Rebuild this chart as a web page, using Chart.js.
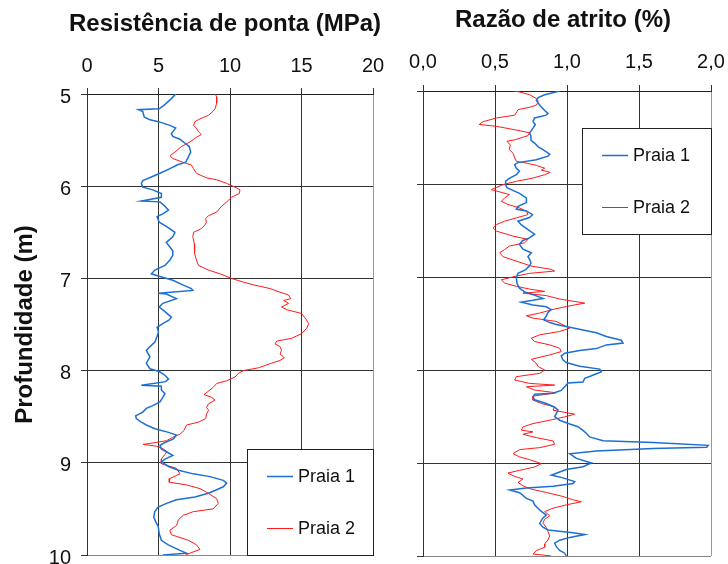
<!DOCTYPE html>
<html>
<head>
<meta charset="utf-8">
<script src="https://cdn.jsdelivr.net/npm/chart.js@4.4.1/dist/chart.umd.min.js"></script>
<style>
  html, body { margin: 0; padding: 0; background: #fff; }
  #wrap { position: relative; width: 728px; height: 564px; }
  canvas { position: absolute; top: 0; }
</style>
</head>
<body>
<div id="wrap">
  <canvas id="qcChart" width="395" height="564" style="left:0"></canvas>
  <canvas id="rfChart" width="333" height="564" style="left:395px"></canvas>
</div>
<script>
// Resistência de ponta (MPa) - Praia 1
const depthQc1 = [
  5.00,5.05,5.12,5.16,5.17,5.19,5.25,5.28,5.30,5.34,
  5.37,5.43,5.46,5.49,5.54,5.57,5.63,5.68,5.74,5.77,
  5.81,5.86,5.90,5.94,5.97,6.01,6.04,6.08,6.12,6.16,
  6.17,6.21,6.26,6.30,6.33,6.39,6.44,6.50,6.55,6.61,
  6.64,6.70,6.75,6.80,6.86,6.91,6.95,6.98,7.02,7.07,
  7.11,7.13,7.16,7.17,7.22,7.27,7.31,7.36,7.42,7.45,
  7.49,7.53,7.58,7.63,7.69,7.74,7.78,7.85,7.92,7.98,
  8.01,8.05,8.09,8.12,8.16,8.17,8.21,8.25,8.29,8.34,
  8.38,8.41,8.45,8.49,8.52,8.56,8.59,8.63,8.67,8.70,
  8.74,8.78,8.81,8.85,8.88,8.92,8.96,8.99,9.04,9.08,
  9.12,9.15,9.19,9.22,9.26,9.30,9.33,9.37,9.40,9.44,
  9.48,9.53,9.59,9.64,9.69,9.77,9.84,9.89,9.95,9.98,
  10.0
];
const qcPraia1 = [
  6.2,5.9,5.4,5.05,3.6,3.9,4.0,4.4,5.0,5.8,
  6.2,5.9,6.0,6.5,6.9,7.15,7.25,7.1,6.9,6.3,
  5.8,5.1,4.5,3.9,3.8,3.9,4.6,5.2,5.2,3.8,
  5.1,5.4,5.7,5.3,4.9,5.05,5.6,6.15,6.0,5.55,
  5.7,6.0,6.0,5.8,5.45,4.75,4.5,5.1,6.0,6.7,
  7.3,7.4,5.0,5.55,6.25,5.3,5.05,5.45,5.9,5.75,
  5.3,4.9,5.0,4.9,4.75,4.4,4.15,4.4,4.15,4.4,
  5.05,5.45,5.7,5.5,3.8,5.2,5.2,5.45,5.3,5.1,
  4.6,4.15,3.9,3.4,3.45,3.8,4.15,4.75,5.7,6.25,
  6.05,5.45,5.1,5.2,5.55,6.0,5.45,5.2,5.7,6.4,
  7.43,8.6,9.53,9.77,9.53,8.95,8.48,7.55,6.26,5.56,
  4.98,4.74,4.67,4.81,4.98,5.05,5.2,5.68,6.5,6.96,
  5.3
];

// Resistência de ponta (MPa) - Praia 2
const depthQc2 = [
  5.00,5.03,5.10,5.16,5.19,5.23,5.27,5.30,5.34,5.37,
  5.41,5.44,5.47,5.52,5.57,5.63,5.67,5.70,5.74,5.77,
  5.81,5.86,5.91,5.93,5.97,6.01,6.04,6.08,6.12,6.17,
  6.22,6.28,6.32,6.35,6.39,6.42,6.46,6.50,6.55,6.62,
  6.68,6.73,6.80,6.86,6.91,6.95,7.00,7.04,7.07,7.11,
  7.15,7.18,7.22,7.24,7.27,7.31,7.34,7.38,7.44,7.49,
  7.54,7.60,7.65,7.68,7.71,7.74,7.78,7.82,7.86,7.89,
  7.92,7.97,8.00,8.03,8.07,8.11,8.14,8.18,8.21,8.26,
  8.29,8.32,8.36,8.40,8.43,8.47,8.52,8.56,8.59,8.65,
  8.69,8.72,8.76,8.79,8.80,8.82,8.85,8.88,8.91,8.96,
  9.01,9.06,9.12,9.17,9.21,9.24,9.28,9.33,9.39,9.44,
  9.50,9.53,9.57,9.62,9.68,9.73,9.78,9.84,9.89,9.94,
  9.98,10.0
];
const qcPraia2 = [
  8.95,9.07,9.07,8.95,8.8,8.5,7.9,7.55,7.45,7.65,
  7.8,8.0,7.65,7.2,6.6,6.15,5.8,6.0,6.7,7.3,
  7.45,7.65,8.35,9.07,9.77,10.35,10.7,10.65,10.1,9.77,
  9.4,9.07,8.5,8.3,8.35,8.25,8.0,7.45,7.4,7.5,
  7.55,7.5,7.65,7.8,8.5,9.3,10.1,10.93,11.63,12.8,
  13.5,14.1,14.25,13.75,14.1,13.6,13.97,15.0,15.3,15.5,
  15.37,15.0,14.3,13.27,13.15,13.5,13.6,13.5,13.8,13.5,
  12.9,11.98,10.93,10.58,10.35,9.77,9.07,8.83,8.6,8.18,
  8.72,8.95,8.5,8.36,8.5,8.36,8.3,7.78,6.96,6.78,
  6.5,6.03,5.56,4.4,3.93,4.86,5.33,5.6,5.44,5.2,
  5.2,6.26,6.5,5.8,5.75,6.96,7.9,8.48,9.07,9.18,
  8.83,7.43,6.73,6.38,6.26,5.8,5.9,7.08,7.66,7.9,
  7.2,6.9
];

// Razão de atrito (%) - Praia 1
const depthRf1 = [
  5.00,5.04,5.07,5.10,5.13,5.17,5.21,5.24,5.26,5.29,
  5.33,5.36,5.40,5.43,5.45,5.49,5.53,5.56,5.60,5.63,
  5.68,5.70,5.74,5.77,5.79,5.83,5.86,5.90,5.94,5.97,
  6.01,6.04,6.10,6.15,6.20,6.24,6.27,6.29,6.33,6.36,
  6.40,6.44,6.49,6.54,6.58,6.61,6.65,6.70,6.74,6.78,
  6.81,6.85,6.88,6.92,6.96,7.01,7.07,7.12,7.16,7.19,
  7.23,7.25,7.27,7.30,7.32,7.35,7.38,7.42,7.46,7.49,
  7.51,7.54,7.57,7.60,7.64,7.68,7.71,7.73,7.77,7.79,
  7.82,7.85,7.89,7.92,7.96,7.99,8.02,8.04,8.07,8.09,
  8.13,8.14,8.18,8.22,8.25,8.26,8.29,8.32,8.36,8.40,
  8.43,8.47,8.50,8.54,8.58,8.61,8.65,8.68,8.72,8.76,
  8.78,8.81,8.83,8.845,8.87,8.90,8.95,9.00,9.04,9.07,
  9.11,9.13,9.16,9.20,9.22,9.25,9.27,9.29,9.32,9.38,
  9.41,9.45,9.49,9.52,9.56,9.59,9.65,9.69,9.72,9.75,
  9.77,9.80,9.83,9.86,9.90,9.94,9.97,10.0
];
const rfPraia1 = [
  0.95,0.845,0.80,0.787,0.80,0.82,0.845,0.868,0.856,0.775,
  0.764,0.78,0.764,0.75,0.74,0.75,0.75,0.775,0.80,0.833,
  0.88,0.868,0.787,0.66,0.637,0.648,0.67,0.648,0.60,0.574,
  0.574,0.583,0.67,0.718,0.718,0.66,0.648,0.718,0.76,0.74,
  0.66,0.683,0.729,0.775,0.74,0.69,0.67,0.694,0.752,0.729,
  0.74,0.75,0.74,0.713,0.66,0.648,0.653,0.67,0.706,0.764,
  0.833,0.764,0.683,0.764,0.856,0.89,0.868,0.856,0.838,0.88,
  0.926,1.019,1.111,1.204,1.273,1.377,1.389,1.273,1.204,1.088,
  0.984,0.96,0.972,0.995,1.088,1.227,1.238,1.204,1.157,1.123,
  1.111,1.007,0.984,0.96,0.903,0.775,0.764,0.775,0.856,0.914,
  0.937,0.926,0.914,0.949,1.019,1.076,1.111,1.134,1.157,1.25,
  1.597,1.98,1.97,1.597,1.204,1.019,1.065,1.169,1.111,0.995,
  0.926,0.891,0.972,1.053,1.042,0.903,0.718,0.602,0.671,0.718,
  0.764,0.775,0.8,0.822,0.856,0.833,0.81,0.833,0.868,1.042,
  1.123,1.019,0.949,0.914,0.926,0.949,0.984,0.995
];

// Razão de atrito (%) - Praia 2
const depthRf2 = [
  5.00,5.01,5.04,5.08,5.11,5.15,5.175,5.20,5.22,5.26,
  5.29,5.33,5.36,5.38,5.42,5.45,5.48,5.525,5.54,5.58,
  5.63,5.67,5.72,5.757,5.775,5.80,5.83,5.85,5.875,5.90,
  5.936,5.971,6.007,6.06,6.114,6.15,6.186,6.22,6.257,6.293,
  6.329,6.364,6.40,6.436,6.471,6.507,6.56,6.596,6.632,6.668,
  6.704,6.739,6.782,6.829,6.882,6.918,6.936,6.961,6.99,7.03,
  7.065,7.10,7.13,7.155,7.173,7.20,7.237,7.281,7.317,7.353,
  7.388,7.417,7.442,7.478,7.514,7.55,7.586,7.622,7.658,7.694,
  7.73,7.766,7.802,7.838,7.885,7.928,7.964,8.0,8.036,8.072,
  8.108,8.144,8.162,8.18,8.216,8.245,8.281,8.324,8.36,8.396,
  8.432,8.475,8.504,8.54,8.576,8.612,8.647,8.665,8.691,8.727,
  8.763,8.799,8.835,8.856,8.899,8.935,8.964,9.007,9.043,9.079,
  9.108,9.137,9.173,9.209,9.245,9.281,9.317,9.36,9.396,9.417,
  9.45,9.486,9.522,9.568,9.604,9.647,9.691,9.737,9.784,9.827,
  9.871,9.906,9.942,9.978,10.0
];
const rfPraia2 = [
  0.63,0.67,0.74,0.787,0.80,0.79,0.74,0.66,0.653,0.637,
  0.51,0.417,0.39,0.51,0.648,0.74,0.729,0.637,0.583,0.606,
  0.60,0.625,0.637,0.648,0.718,0.787,0.845,0.822,0.884,0.845,
  0.764,0.648,0.556,0.475,0.60,0.567,0.544,0.59,0.67,0.718,
  0.729,0.648,0.567,0.51,0.486,0.51,0.625,0.729,0.706,0.60,
  0.567,0.532,0.556,0.648,0.75,0.89,0.914,0.74,0.648,0.544,
  0.567,0.648,0.74,0.845,0.694,0.856,0.949,1.123,0.995,0.891,
  0.81,0.718,0.764,0.926,0.972,1.019,0.949,0.81,0.752,0.775,
  0.88,0.949,0.96,0.88,0.752,0.787,0.80,0.845,0.81,0.648,
  0.637,0.74,0.914,0.718,0.775,0.926,0.764,0.764,0.822,0.914,
  0.903,1.053,0.984,0.88,0.764,0.694,0.683,0.764,0.694,0.787,
  0.903,0.914,0.81,0.671,0.625,0.671,0.74,0.822,0.775,0.671,
  0.59,0.625,0.694,0.66,0.694,0.752,0.856,0.972,1.042,1.1,
  0.995,0.903,0.845,0.88,0.845,0.833,0.856,0.868,0.88,0.868,
  0.845,0.845,0.787,0.764,0.891
];

const seriesNames = ['Praia 1', 'Praia 2'];
const seriesColors = ['#1c6fd4', '#ff1a1a'];

const FONT = '"Liberation Sans", Arial, Helvetica, sans-serif';
Chart.defaults.font.family = FONT;
Chart.defaults.color = '#111';

function toPoints(depths, values) {
  return values.map((v, i) => ({ x: v, y: depths[i] }));
}

function lineSet(i, width, points) {
  return {
    label: seriesNames[i],
    data: points,
    borderColor: seriesColors[i],
    backgroundColor: seriesColors[i],
    borderWidth: width,
    pointRadius: 0,
    showLine: true,
    tension: 0
  };
}

// título do painel (sem compressão do texto)
const panelTitle = {
  id: 'panelTitle',
  afterDraw(chart, args, opts) {
    const { ctx, chartArea } = chart;
    ctx.save();
    ctx.font = 'bold 24px ' + FONT;
    ctx.fillStyle = '#111';
    ctx.textAlign = 'center';
    ctx.textBaseline = 'alphabetic';
    ctx.fillText(opts.text, (chartArea.left + chartArea.right) / 2 + opts.dx, opts.baseline);
    ctx.restore();
  }
};

// legenda com moldura dentro da área do gráfico
const boxLegend = {
  id: 'boxLegend',
  afterDraw(chart, args, opts) {
    const { ctx } = chart;
    const b = opts.box;
    ctx.save();
    ctx.fillStyle = '#fff';
    ctx.fillRect(b.x, b.y, b.w, b.h);
    ctx.strokeStyle = '#222';
    ctx.lineWidth = 1;
    ctx.strokeRect(b.x + 0.5, b.y + 0.5, b.w, b.h);
    ctx.font = '18px ' + FONT;
    ctx.textBaseline = 'middle';
    chart.data.datasets.forEach((ds, i) => {
      const y = Math.round(b.y + 27 + i * 52);
      ctx.strokeStyle = ds.borderColor;
      ctx.lineWidth = ds.borderWidth;
      ctx.beginPath();
      ctx.moveTo(b.x + 20, y + 0.5);
      ctx.lineTo(b.x + 46, y + 0.5);
      ctx.stroke();
      ctx.fillStyle = '#111';
      ctx.fillText(ds.label, b.x + 51, y + 1);
    });
    ctx.restore();
  }
};

function noPadding(scale) {
  scale.paddingTop = 0;
  scale.paddingBottom = 0;
  scale.paddingLeft = 0;
  scale.paddingRight = 0;
}

function depthAxis(showLabels, width) {
  return {
    type: 'linear',
    position: 'left',
    reverse: true,
    min: 5,
    max: 10,
    ticks: { display: showLabels, stepSize: 1, padding: 10, labelOffset: 3, font: { size: 20 } },
    grid: { color: c => (c.tick && c.tick.value === 10 ? '#888' : '#333'), tickLength: 6, tickColor: '#333' },
    border: { color: '#333' },
    title: {
      display: showLabels,
      text: 'Profundidade (m)',
      font: { size: 24, weight: 'bold' },
      padding: { top: 11, bottom: 0 }
    },
    afterFit(scale) { scale.width = width; noPadding(scale); }
  };
}

function topAxis(max, step, fmt, height, tickPad) {
  return {
    type: 'linear',
    position: 'top',
    min: 0,
    max: max,
    ticks: { stepSize: step, padding: tickPad, font: { size: 20 }, callback: fmt },
    grid: { color: c => (c.tick && c.tick.value === max ? '#999' : '#333'), tickLength: 6, tickColor: '#333' },
    border: { color: '#222' },
    afterFit(scale) { scale.height = height; noPadding(scale); }
  };
}

// Resistência de ponta
new Chart(document.getElementById('qcChart'), {
  type: 'scatter',
  data: {
    datasets: [
      lineSet(0, 1.5, toPoints(depthQc1, qcPraia1)),
      lineSet(1, 1, toPoints(depthQc2, qcPraia2))
    ]
  },
  options: {
    responsive: false,
    animation: false,
    layout: { padding: { left: 0, top: 0, right: 22, bottom: 9 } },
    plugins: {
      legend: { display: false },
      tooltip: { enabled: false },
      panelTitle: { text: 'Resistência de ponta (MPa)', dx: -5, baseline: 31 },
      boxLegend: { box: { x: 247, y: 449, w: 126, h: 106 } }
    },
    scales: {
      x: topAxis(20, 5, v => String(v), 94, 10),
      y: depthAxis(true, 87)
    }
  },
  plugins: [panelTitle, boxLegend]
});

// Razão de atrito
new Chart(document.getElementById('rfChart'), {
  type: 'scatter',
  data: {
    datasets: [
      lineSet(0, 1.5, toPoints(depthRf1, rfPraia1)),
      lineSet(1, 1, toPoints(depthRf2, rfPraia2))
    ]
  },
  options: {
    responsive: false,
    animation: false,
    layout: { padding: { left: 0, top: 0, right: 17, bottom: 8 } },
    plugins: {
      legend: { display: false },
      tooltip: { enabled: false },
      panelTitle: { text: 'Razão de atrito (%)', dx: -4, baseline: 27 },
      boxLegend: { box: { x: 187, y: 128, w: 129, h: 106 } }
    },
    scales: {
      x: topAxis(2, 0.5, v => v.toFixed(1).replace('.', ','), 91, 11),
      y: depthAxis(false, 28)
    }
  },
  plugins: [panelTitle, boxLegend]
});
</script>
</body>
</html>
